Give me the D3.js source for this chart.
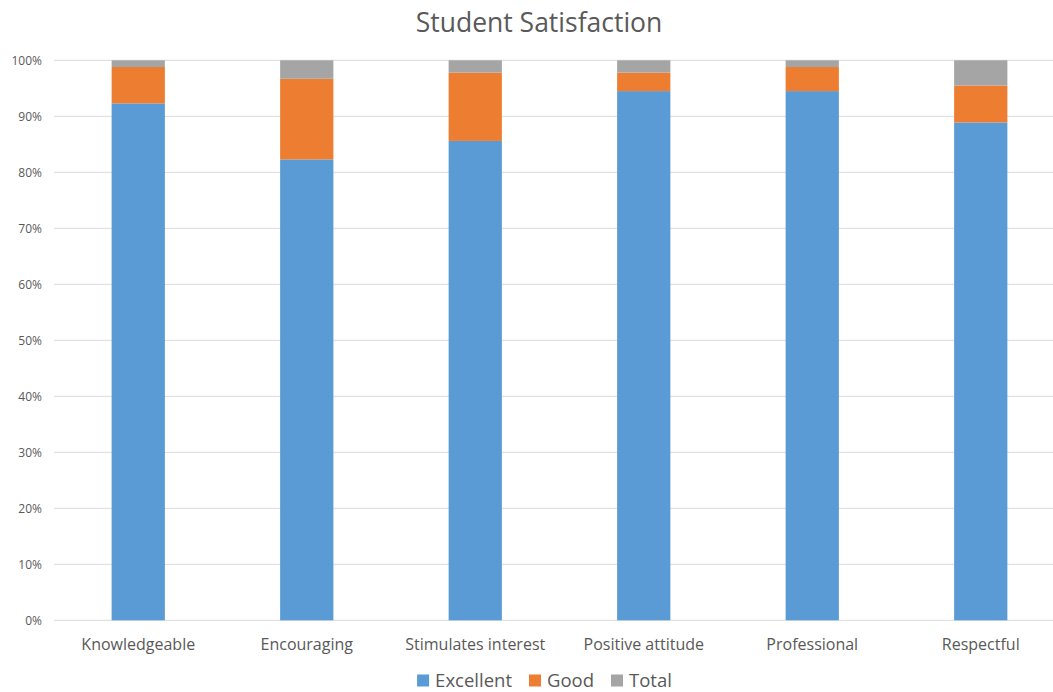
<!DOCTYPE html>
<html>
<head>
<meta charset="utf-8">
<script src="https://cdn.jsdelivr.net/npm/d3@7"></script>
<style>
  html, body { margin: 0; padding: 0; background: #fff; }
  svg { display: block; font-family: "Open Sans", "Noto Sans", sans-serif; }
</style>
</head>
<body>
<svg id="chart" width="1053" height="692"></svg>
<script>
const categories = ["Knowledgeable", "Encouraging", "Stimulates interest", "Positive attitude", "Professional", "Respectful"];
const seriesNames = ["Excellent", "Good", "Total"];
const excellent = [92.3, 82.3, 85.6, 94.5, 94.5, 88.9];
const good = [6.5, 14.4, 12.2, 3.3, 4.3, 6.6];
const total = [1.2, 3.3, 2.2, 2.2, 1.2, 4.5];
const yTicks = [0, 10, 20, 30, 40, 50, 60, 70, 80, 90, 100];
const colors = ["#5B9BD5", "#ED7D31", "#A5A5A5"];

const svg = d3.select("#chart");
const W = 1053, H = 692;
const margin = { left: 54, right: -12, top: 60.3, bottom: 71.7 };

const rows = categories.map((c, i) => ({ cat: c, Excellent: excellent[i], Good: good[i], Total: total[i] }));
const stacked = d3.stack().keys(seriesNames)(rows);

const x = d3.scaleBand().domain(categories).range([margin.left, W - margin.right]).paddingInner(0.684).paddingOuter(0.342);
const y = d3.scaleLinear().domain([0, 100]).range([H - margin.bottom, margin.top]);

// gridlines
svg.append("g").selectAll("line").data(yTicks).join("line")
  .attr("x1", margin.left).attr("x2", W)
  .attr("y1", d => y(d)).attr("y2", d => y(d))
  .attr("stroke", "#D9D9D9").attr("stroke-width", 1);

// y axis labels
const yAxis = d3.axisLeft(y).tickValues(yTicks).tickFormat(d => d + "%").tickSize(0).tickPadding(12);
const yg = svg.append("g").attr("transform", `translate(${margin.left},0)`).call(yAxis);
yg.select(".domain").remove();
yg.selectAll("text").attr("fill", "#595959").style("font-size", "12px").style("font-family", '"Open Sans", sans-serif');

// bars
svg.append("g").selectAll("g").data(stacked).join("g")
  .attr("fill", (d, i) => colors[i])
  .selectAll("rect").data(d => d).join("rect")
  .attr("x", d => x(d.data.cat))
  .attr("width", x.bandwidth())
  .attr("y", d => y(d[1]))
  .attr("height", d => y(d[0]) - y(d[1]));

// x axis
const xAxis = d3.axisBottom(x).tickSize(0).tickPadding(18);
const xg = svg.append("g").attr("transform", `translate(0,${y(0)})`).call(xAxis);
xg.select(".domain").remove();
xg.selectAll("text").attr("fill", "#595959").style("font-size", "16px").style("font-family", '"Open Sans", sans-serif');

// title
svg.append("text").attr("x", 539).attr("y", 32).attr("text-anchor", "middle")
  .attr("fill", "#595959").style("font-size", "26.5px").text("Student Satisfaction");

// legend
const lg = svg.append("g");
let cx = 0;
seriesNames.forEach((n, i) => {
  const g = lg.append("g");
  g.append("rect").attr("x", 0).attr("y", -12).attr("width", 12).attr("height", 12).attr("fill", colors[i]);
  const t = g.append("text").attr("x", 18).attr("y", 0).attr("fill", "#595959").style("font-size", "18.5px").text(n);
  const w = 18 + t.node().getComputedTextLength();
  g.attr("transform", `translate(${cx},0)`);
  cx += w + 17;
});
const legendW = cx - 17;
lg.attr("transform", `translate(${544.5 - legendW / 2},686.5)`);
</script>
</body>
</html>
